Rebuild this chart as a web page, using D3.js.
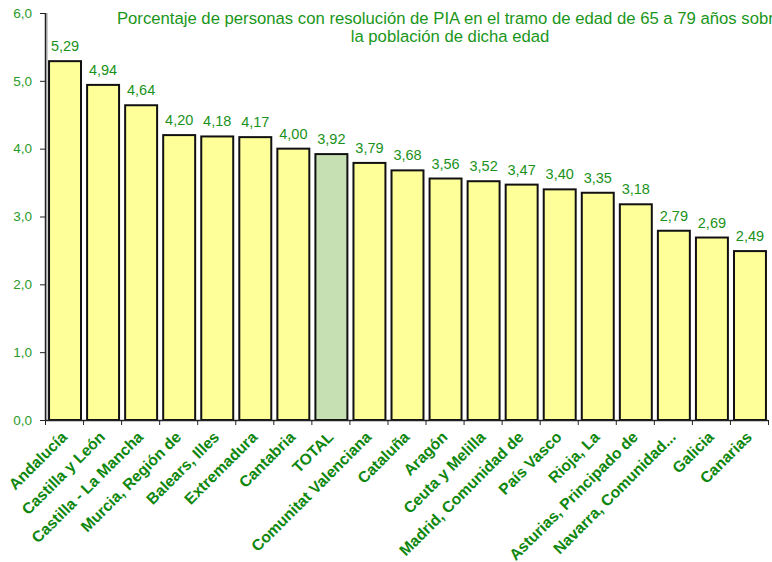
<!DOCTYPE html>
<html>
<head>
<meta charset="utf-8">
<script src="https://cdn.jsdelivr.net/npm/d3@7"></script>
<style>
  body { margin: 0; background: #fff; }
  svg { display: block; font-family: Arial, "Liberation Sans", sans-serif; }
</style>
</head>
<body>
<div id="chart"></div>
<script>
(function () {
    'use strict';

    var categories = ['Andalucía', 'Castilla y León', 'Castilla - La Mancha', 'Murcia, Región de',
        'Balears, Illes', 'Extremadura', 'Cantabria', 'TOTAL', 'Comunitat Valenciana', 'Cataluña',
        'Aragón', 'Ceuta y Melilla', 'Madrid, Comunidad de', 'País Vasco', 'Rioja, La',
        'Asturias, Principado de', 'Navarra, Comunidad...', 'Galicia', 'Canarias'];
    var values = [5.29, 4.94, 4.64, 4.20, 4.18, 4.17, 4.00, 3.92, 3.79, 3.68,
        3.56, 3.52, 3.47, 3.40, 3.35, 3.18, 2.79, 2.69, 2.49];
    var yTicks = [0, 1, 2, 3, 4, 5, 6];
    var titleLines = ['Porcentaje de personas con resolución de PIA en el tramo de edad de 65 a 79 años sobre',
        'la población de dicha edad'];

    var width = 772, height = 562;
    var margin = { top: 13, right: 4, bottom: 142, left: 45 };
    var green = '#0f870f';

    var data = categories.map(function (c, i) { return { name: c, value: values[i] }; });

    var svg = d3.select('#chart').append('svg')
        .attr('width', width)
        .attr('height', height);

    var x = d3.scaleBand()
        .domain(categories)
        .range([margin.left, width - margin.right])
        .paddingInner(0.16)
        .paddingOuter(0.08);

    var y = d3.scaleLinear()
        .domain([0, 6])
        .range([height - margin.bottom, margin.top]);

    // bars
    svg.append('g').selectAll('rect')
        .data(data)
        .enter().append('rect')
        .attr('x', function (d) { return x(d.name) + 1; })
        .attr('y', function (d) { return y(d.value); })
        .attr('width', x.bandwidth())
        .attr('height', function (d) { return y(0) - y(d.value); })
        .attr('fill', function (d) { return d.name === 'TOTAL' ? '#c6e0b4' : '#ffff99'; })
        .attr('stroke', '#111')
        .attr('stroke-width', 2);

    // value labels
    svg.append('g').selectAll('text')
        .data(data)
        .enter().append('text')
        .attr('x', function (d) { return x(d.name) + 1 + x.bandwidth() / 2; })
        .attr('y', function (d) { return y(d.value) - 10; })
        .attr('text-anchor', 'middle')
        .attr('font-size', 14.5)
        .attr('fill', '#1a921a')
        .text(function (d) { return d3.format('.2f')(d.value).replace('.', ','); });

    // y axis (grey shadow + dark line)
    svg.append('line')
        .attr('x1', margin.left + 2).attr('x2', margin.left + 2)
        .attr('y1', y(6)).attr('y2', y(0))
        .attr('stroke', '#bbb').attr('stroke-width', 1.5);
    var yAxis = svg.append('g')
        .attr('transform', 'translate(' + margin.left + ',0)')
        .call(d3.axisLeft(y).tickValues(yTicks).tickSize(5).tickPadding(8)
            .tickFormat(function (d) { return d3.format('.1f')(d).replace('.', ','); }));
    yAxis.select('.domain').attr('stroke', '#222').attr('stroke-width', 1.5)
        .attr('d', 'M0.5,' + y(6) + 'V' + y(0));
    yAxis.selectAll('.tick line').attr('stroke', '#222');
    yAxis.selectAll('.tick text').attr('fill', '#2a9a2a').attr('font-size', 13.5)
        .attr('font-family', 'Arial, "Liberation Sans", sans-serif');

    // x axis with ticks between categories
    var step = x.step();
    var xAxis = svg.append('g')
        .attr('transform', 'translate(0,' + y(0) + ')');
    xAxis.append('line')
        .attr('x1', margin.left).attr('x2', width - margin.right)
        .attr('y1', 0.5).attr('y2', 0.5)
        .attr('stroke', '#222').attr('stroke-width', 1.5);
    xAxis.selectAll('.xtick')
        .data(d3.range(categories.length + 1))
        .enter().append('line')
        .attr('class', 'xtick')
        .attr('x1', function (i) { return margin.left + i * step + 0.5; })
        .attr('x2', function (i) { return margin.left + i * step + 0.5; })
        .attr('y1', 0).attr('y2', 5)
        .attr('stroke', '#222');

    xAxis.selectAll('.xlabel')
        .data(categories)
        .enter().append('text')
        .attr('class', 'xlabel')
        .attr('transform', function (d) {
            return 'translate(' + (x(d) + x.bandwidth() / 2 + 4) + ',18) rotate(-45)';
        })
        .attr('text-anchor', 'end')
        .attr('font-size', 15.6)
        .attr('font-weight', 'bold')
        .attr('fill', green)
        .text(function (d) { return d; });

    // title
    svg.append('g').selectAll('text')
        .data(titleLines)
        .enter().append('text')
        .attr('x', 450)
        .attr('y', function (d, i) { return 23.5 + i * 18.5; })
        .attr('text-anchor', 'middle')
        .attr('font-size', 16.7)
        .attr('fill', '#1a961a')
        .text(function (d) { return d; });
})();
</script>
</body>
</html>
